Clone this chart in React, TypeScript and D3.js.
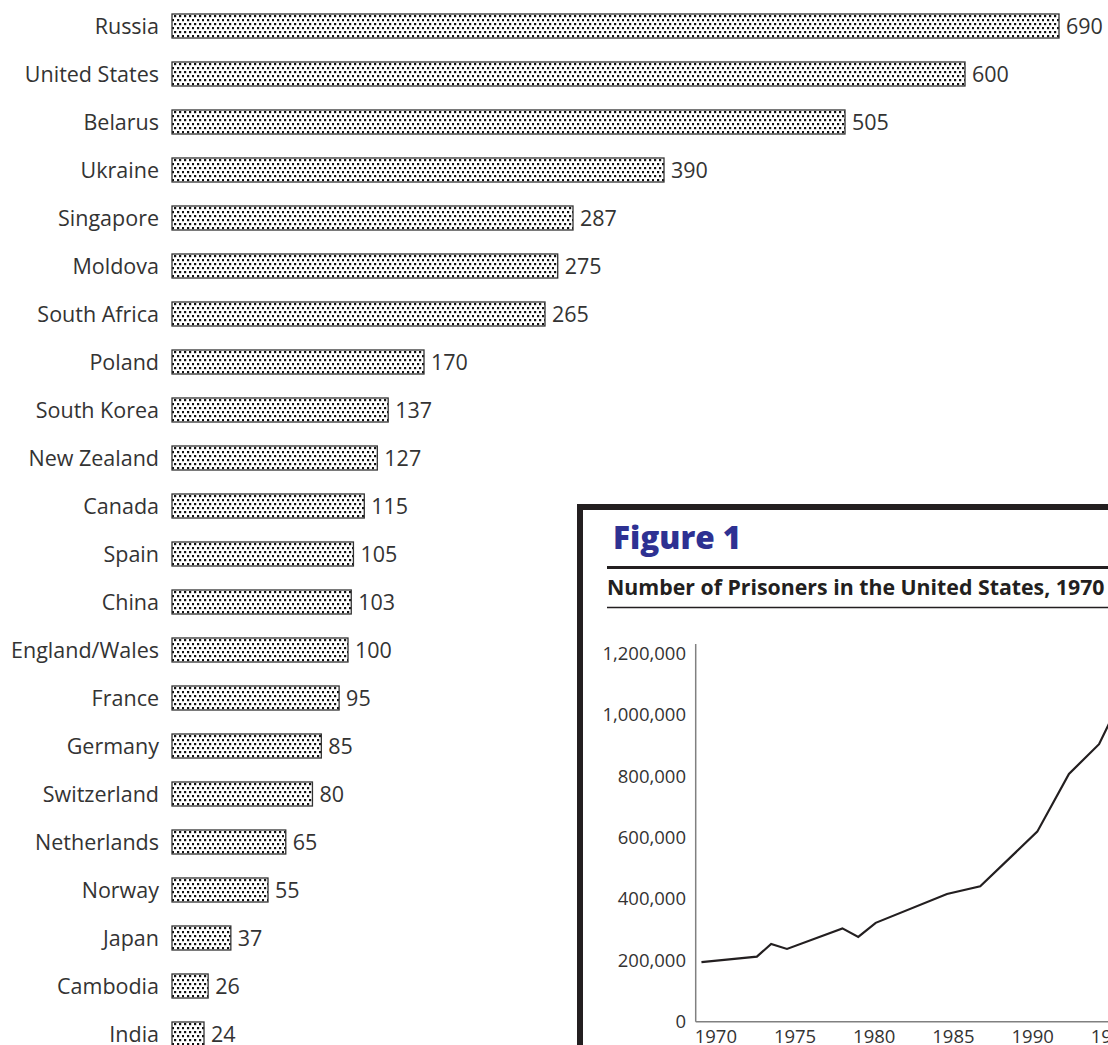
import React from "react";
import * as d3 from "d3";

// ---- Bar chart data: incarceration rates per 100,000 ----
const countries = [
  "Russia", "United States", "Belarus", "Ukraine", "Singapore", "Moldova",
  "South Africa", "Poland", "South Korea", "New Zealand", "Canada", "Spain",
  "China", "England/Wales", "France", "Germany", "Switzerland", "Netherlands",
  "Norway", "Japan", "Cambodia", "India",
];
const rates = [
  690, 600, 505, 390, 287, 275, 265, 170, 137, 127, 115, 105, 103, 100, 95, 85,
  80, 65, 55, 37, 26, 24,
];

// ---- Inset line chart: number of prisoners in the U.S. ----
const prisonYears = [
  1970.3, 1973.8, 1974.7, 1975.7, 1979.2, 1980.2, 1981.3, 1985.8, 1987.9,
  1991.5, 1993.5, 1995.4, 1996.8,
];
const prisoners = [
  194000, 212000, 253000, 237000, 304000, 276000, 322000, 416000, 441000,
  619000, 807000, 904000, 1052000,
];
const yTicks = [0, 200000, 400000, 600000, 800000, 1000000, 1200000];
const xTicks = [1970, 1975, 1980, 1985, 1990, 1995];

const W = 1108;
const H = 1045;
const FONT = "'Open Sans', 'Noto Sans', sans-serif";
const INK = "#231f20";
const TEXT = "#333";

export default function App() {
  const y = d3
    .scaleBand<string>()
    .domain(countries)
    .range([14, 1046])
    .paddingInner(0.5)
    .paddingOuter(0);

  // the original drawing's bar lengths are not proportional; a piecewise
  // linear scale reproduces its visual lengths
  const barX0 = 172;
  const x = d3
    .scaleLinear()
    .domain([0, 24, 55, 100, 170, 287, 390, 505, 600, 690])
    .range([0, 32, 96, 176, 252, 401, 492, 673, 793, 887].map((d) => d + barX0));

  const ix = d3.scaleLinear().domain([1970, 1995]).range([696.7, 1092.7]);
  const iy = d3.scaleLinear().domain([0, 1200000]).range([1021.7, 653.3]);
  const line = d3
    .line<number>()
    .x((_, i) => ix(prisonYears[i]))
    .y((d) => iy(d));
  const fmt = d3.format(",");

  return (
    <svg
      width={W}
      height={H}
      style={{ position: "fixed", left: 0, top: 0, background: "#fff" }}
      fontFamily={FONT}
    >
      <defs>
        <pattern id="dots" width={10} height={8} patternUnits="userSpaceOnUse" x={barX0 + 2} y={15}>
          <rect width={10} height={8} fill="#fff" />
          <rect x={0} y={0} width={2.2} height={2.2} fill="#111" />
          <rect x={5} y={0} width={2.2} height={2.2} fill="#111" />
          <rect x={3} y={4} width={2.2} height={2.2} fill="#111" />
          <rect x={8} y={4} width={2.2} height={2.2} fill="#111" />
        </pattern>
      </defs>

      {countries.map((c, i) => {
        const top = y(c)!;
        const bw = y.bandwidth();
        const cy = top + bw / 2;
        const xe = x(rates[i]);
        return (
          <g key={c}>
            <text x={159} y={cy} dy="0.35em" textAnchor="end" fontSize={21.5} fill={TEXT}>
              {c}
            </text>
            <rect
              x={barX0}
              y={top}
              width={xe - barX0}
              height={bw}
              fill="url(#dots)"
              stroke="#333"
              strokeWidth={1.3}
            />
            <text x={xe + 7} y={cy} dy="0.35em" fontSize={21.5} fill={TEXT}>
              {rates[i]}
            </text>
          </g>
        );
      })}

      {/* Inset figure */}
      <g>
        <rect x={580} y={507} width={600} height={600} fill="#fff" stroke={INK} strokeWidth={6} />
        <text x={613} y={549} fontSize={31.5} fontWeight={800} fill="#2e3192">
          Figure 1
        </text>
        <line x1={607} x2={W} y1={567.5} y2={567.5} stroke={INK} strokeWidth={3} />
        <text x={607} y={595} fontSize={21.3} fontWeight={700} fill={INK}>
          Number of Prisoners in the United States, 1970
        </text>
        <line x1={607} x2={W} y1={607.5} y2={607.5} stroke={INK} strokeWidth={1.5} />

        <line x1={695.7} x2={695.7} y1={644} y2={iy(0)} stroke="#808080" strokeWidth={1.5} />
        <line x1={695.7} x2={W} y1={iy(0)} y2={iy(0)} stroke="#808080" strokeWidth={1.5} />
        {yTicks.map((t) => (
          <text key={t} x={686} y={iy(t)} dy="0.35em" textAnchor="end" fontSize={18.5} fill={TEXT}>
            {fmt(t)}
          </text>
        ))}
        {xTicks.map((t) => (
          <text key={t} x={ix(t) - 2} y={1043} fontSize={18.5} fill={TEXT}>
            {t}
          </text>
        ))}
        <path d={line(prisoners) || ""} fill="none" stroke={INK} strokeWidth={2.2} />
      </g>
    </svg>
  );
}
